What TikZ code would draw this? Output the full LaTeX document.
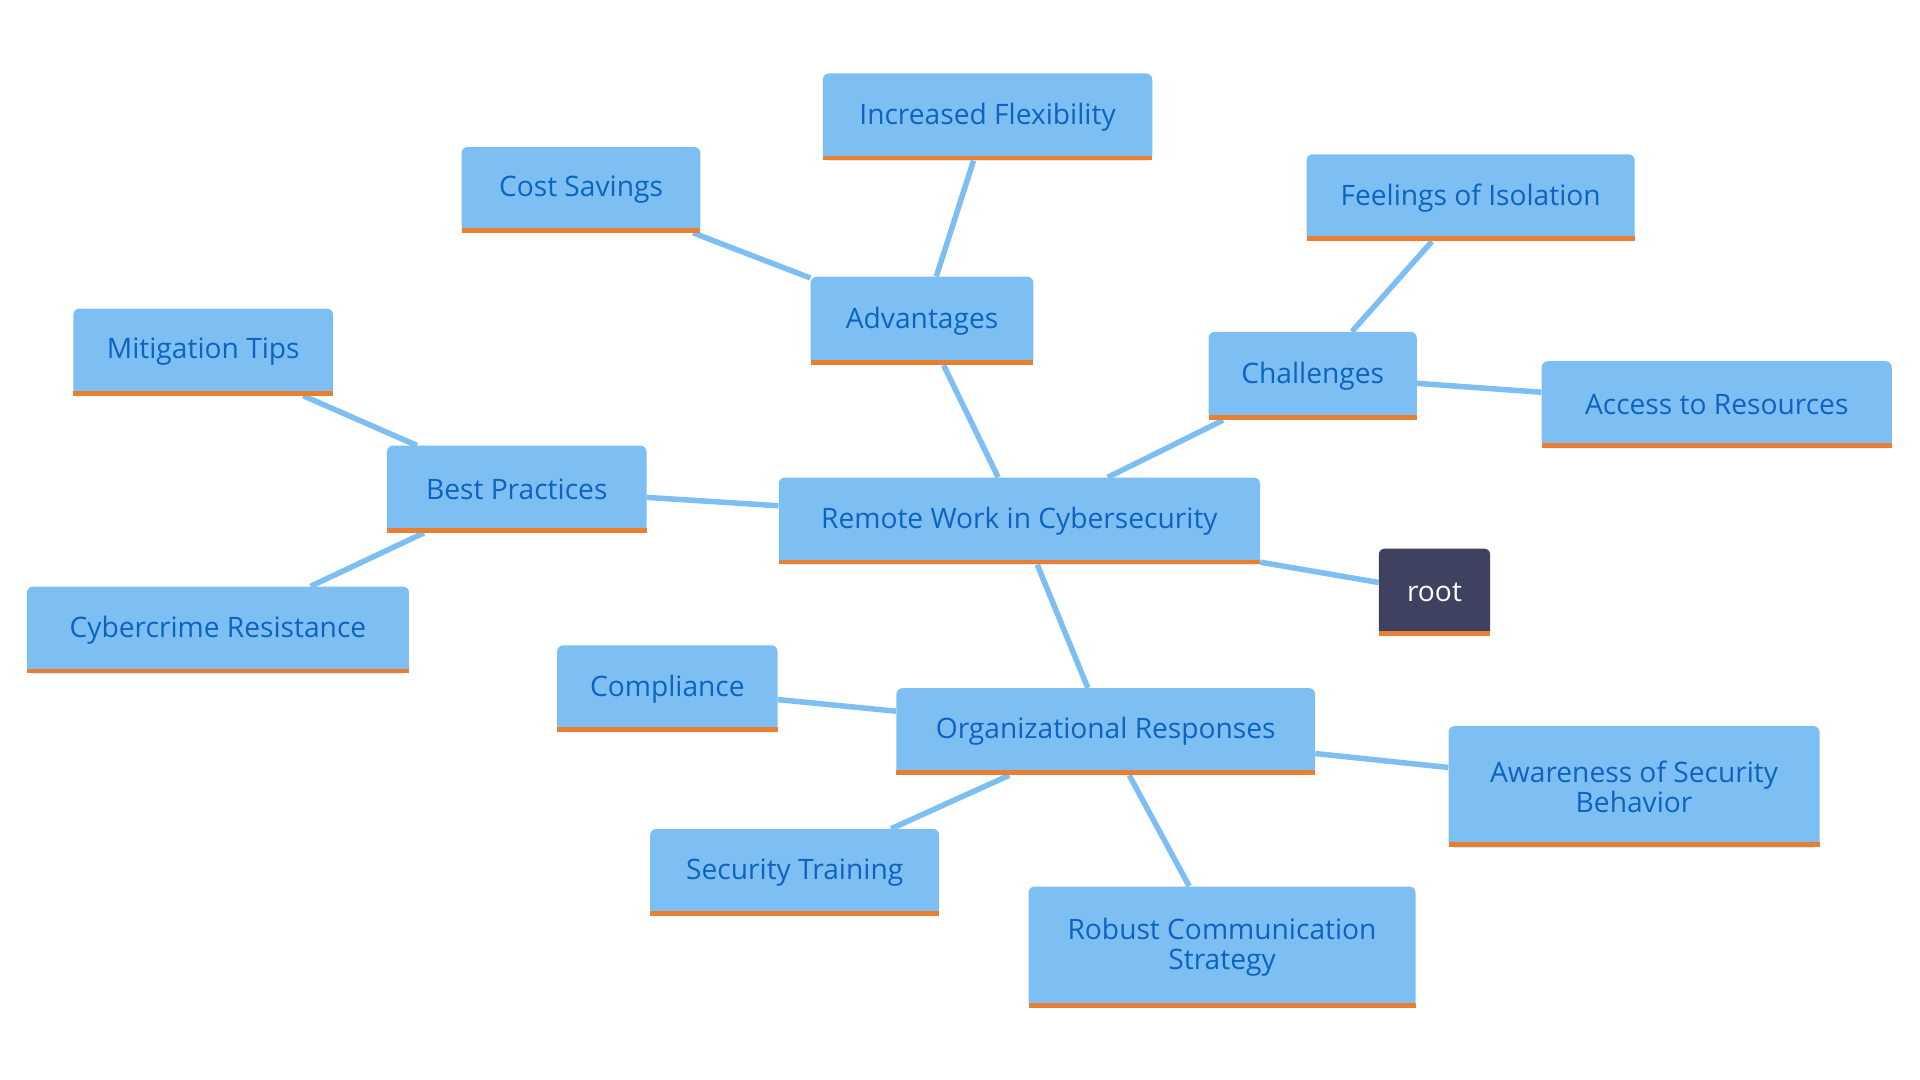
\documentclass[tikz,border=0pt]{standalone}
\usepackage{fontspec}
\setmainfont{Open Sans}
\usetikzlibrary{backgrounds}
\definecolor{fillb}{HTML}{7DBFF2}
\definecolor{txtb}{HTML}{0D63BF}
\definecolor{orng}{HTML}{E97F30}
\definecolor{dark}{HTML}{3F4160}
\tikzset{
 box/.style={fill=fillb,text=txtb,rounded corners=5pt,align=center,inner sep=0pt,
   font=\fontsize{23}{27}\selectfont,anchor=center},
 dbox/.style={box,fill=dark,text=white},
 edge/.style={draw=fillb,line width=4.5pt},
 bar/.style={orng,line width=4pt}
}
% \mybox{name}{x1}{y1}{x2}{y2}{text}{style}
\newcommand{\mybox}[7]{%
 \node[#7,minimum width={(#4-#2)*1pt},minimum height={(#5-#3)*1pt}] (#1) at ({(#2+#4)/2},{-(#3+#5)/2}) {#6};
 \draw[bar] (#2,-#5+2) -- (#4,-#5+2);}
\begin{document}
\begin{tikzpicture}[x=1pt,y=1pt]
\useasboundingbox (0,0) rectangle (1568,-882);
\mybox{flex}{672}{60}{941}{131}{Increased Flexibility}{box}
\mybox{cost}{377}{120}{572}{190}{Cost Savings}{box}
\mybox{iso}{1067}{126}{1335}{197}{Feelings of Isolation}{box}
\mybox{adv}{662}{226}{844}{298}{Advantages}{box}
\mybox{chal}{987}{271}{1157}{343}{Challenges}{box}
\mybox{acc}{1259}{295}{1545}{366}{Access to Resources}{box}
\mybox{mit}{60}{252}{272}{323}{Mitigation Tips}{box}
\mybox{best}{316}{364}{528}{435}{Best Practices}{box}
\mybox{rw}{636}{390}{1029}{461}{Remote Work in Cybersecurity}{box}
\mybox{root}{1126}{448}{1217}{519}{root}{dbox}
\mybox{cyb}{22}{479}{334}{550}{Cybercrime Resistance}{box}
\mybox{comp}{455}{527}{635}{598}{Compliance}{box}
\mybox{org}{732}{562}{1074}{633}{Organizational Responses}{box}
\mybox{aw}{1183}{593}{1486}{692}{Awareness of Security\\[-2pt]Behavior}{box}
\mybox{st}{531}{677}{767}{748}{Security Training}{box}
\mybox{rob}{840}{724}{1156}{823}{Robust Communication\\[-2pt]Strategy}{box}
\begin{scope}[on background layer]
\draw[edge] (adv) -- (flex);
\draw[edge] (adv) -- (cost);
\draw[edge] (chal) -- (iso);
\draw[edge] (chal) -- (acc);
\draw[edge] (best) -- (mit);
\draw[edge] (best) -- (cyb);
\draw[edge] (rw) -- (adv);
\draw[edge] (rw) -- (chal);
\draw[edge] (rw) -- (best);
\draw[edge] (rw) -- (root);
\draw[edge] (rw) -- (org);
\draw[edge] (org) -- (comp);
\draw[edge] (org) -- (aw);
\draw[edge] (org) -- (st);
\draw[edge] (org) -- (rob);
\end{scope}
\end{tikzpicture}
\end{document}
